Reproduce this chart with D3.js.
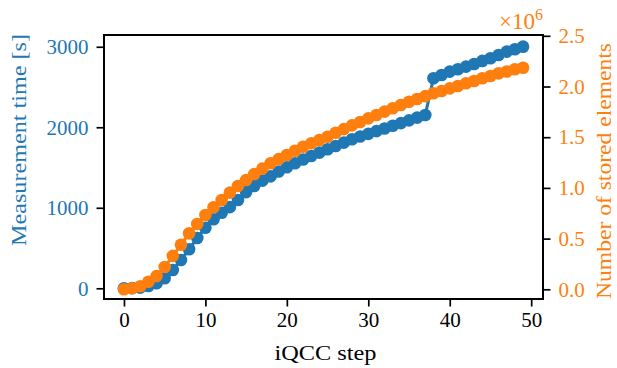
<!DOCTYPE html>
<html>
<head>
<meta charset="utf-8">
<script src="https://cdn.jsdelivr.net/npm/d3@7"></script>
<style>
  body { margin: 0; background: #fff; }
  text { font-family: 'Liberation Serif', 'Times New Roman', 'DejaVu Serif', serif; }
</style>
</head>
<body>
<svg id="chart" width="617" height="368"></svg>
<script>
// iQCC step on the x axis
const steps = d3.range(0, 50);

// measurement time in seconds (left axis)
const measTime = [
  0, 2, 8, 28, 62, 124, 227, 352, 484, 625,
  752, 857, 939, 1008, 1097, 1195, 1271, 1337, 1390, 1450,
  1503, 1553, 1600, 1643, 1685, 1727, 1768, 1809, 1851, 1885,
  1918, 1952, 1985, 2019, 2052, 2086, 2120, 2153, 2609, 2650,
  2691, 2720, 2753, 2786, 2824, 2857, 2898, 2939, 2969, 3001
];

// number of stored elements in millions (right axis, x1e6)
const storedElems = [
  0, 0.01, 0.03, 0.075, 0.13, 0.22, 0.33, 0.44, 0.552, 0.644,
  0.733, 0.809, 0.881, 0.953, 1.019, 1.078, 1.137, 1.19, 1.243, 1.284,
  1.324, 1.367, 1.406, 1.44, 1.472, 1.505, 1.544, 1.58, 1.617, 1.65,
  1.686, 1.719, 1.752, 1.785, 1.818, 1.85, 1.877, 1.905, 1.933, 1.956,
  1.982, 2.005, 2.032, 2.054, 2.081, 2.104, 2.13, 2.148, 2.17, 2.185
];

const xTicks = [0, 10, 20, 30, 40, 50];
const leftTicks = [0, 1000, 2000, 3000];
const rightTicks = [0, 0.5, 1.0, 1.5, 2.0, 2.5];

const blue = '#1f77b4', orange = '#ff7f0e';
const pLeft = 104, pRight = 543, pTop = 35, pBottom = 299;
const fs = 21;
const serif = "'Liberation Serif', 'Times New Roman', 'DejaVu Serif', serif";

const svg = d3.select('#chart');

let x = d3.scaleLinear().domain([-2.45, 51.45]).range([pLeft, pRight]);
let yL = d3.scaleLinear().domain([-133, 3146]).range([pBottom, pTop]);
let yR = d3.scaleLinear().domain([-0.0957, 2.508]).range([pBottom, pTop]);

// Axes
function styleAxis(g, color) {
  g.attr('font-family', serif).attr('font-size', fs);
  g.select('.domain').remove();
  g.selectAll('.tick line').attr('stroke', '#000').attr('stroke-width', 1.7);
  g.selectAll('.tick text').attr('fill', color);
}

svg.append('g')
  .attr('transform', 'translate(0,' + pBottom + ')')
  .call(d3.axisBottom(x).tickValues(xTicks).tickSize(7.5).tickPadding(6).tickFormat(d3.format('d')))
  .call(g => styleAxis(g, '#000'));

svg.append('g')
  .attr('transform', 'translate(' + pLeft + ',0)')
  .call(d3.axisLeft(yL).tickValues(leftTicks).tickSize(7.5).tickPadding(8).tickFormat(d3.format('d')))
  .call(g => styleAxis(g, blue));

svg.append('g')
  .attr('transform', 'translate(' + pRight + ',0)')
  .call(d3.axisRight(yR).tickValues(rightTicks).tickSize(7.5).tickPadding(8).tickFormat(d3.format('.1f')))
  .call(g => styleAxis(g, orange));

// Blue series
svg.append('path')
  .datum(steps)
  .attr('fill', 'none')
  .attr('stroke', blue)
  .attr('stroke-width', 3.1)
  .attr('stroke-linejoin', 'round')
  .attr('d', d3.line().x(i => x(i)).y(i => yL(measTime[i])));

svg.append('g').selectAll('circle')
  .data(steps)
  .join('circle')
  .attr('cx', i => x(i))
  .attr('cy', i => yL(measTime[i]))
  .attr('r', 6.3)
  .attr('fill', blue);

// Orange series (twin axis, drawn on top)
svg.append('path')
  .datum(steps)
  .attr('fill', 'none')
  .attr('stroke', orange)
  .attr('stroke-width', 3.1)
  .attr('stroke-linejoin', 'round')
  .attr('d', d3.line().x(i => x(i)).y(i => yR(storedElems[i])));

svg.append('g').selectAll('circle')
  .data(steps)
  .join('circle')
  .attr('cx', i => x(i))
  .attr('cy', i => yR(storedElems[i]))
  .attr('r', 6.3)
  .attr('fill', orange);

// frame
svg.append('rect')
  .attr('x', pLeft).attr('y', pTop)
  .attr('width', pRight - pLeft).attr('height', pBottom - pTop)
  .attr('fill', 'none')
  .attr('stroke', '#000')
  .attr('stroke-width', 2);

// labels
svg.append('text')
  .attr('x', (pLeft + pRight) / 2 + 2)
  .attr('y', 360)
  .attr('text-anchor', 'middle')
  .attr('font-size', fs)
  .attr('textLength', 102)
  .attr('lengthAdjust', 'spacingAndGlyphs')
  .text('iQCC step');

svg.append('text')
  .attr('transform', 'translate(26,140) rotate(-90)')
  .attr('text-anchor', 'middle')
  .attr('font-size', fs)
  .attr('textLength', 212)
  .attr('lengthAdjust', 'spacingAndGlyphs')
  .attr('fill', blue)
  .text('Measurement time [s]');

svg.append('text')
  .attr('transform', 'translate(611,171) rotate(-90)')
  .attr('text-anchor', 'middle')
  .attr('font-size', fs)
  .attr('textLength', 256)
  .attr('lengthAdjust', 'spacingAndGlyphs')
  .attr('fill', orange)
  .text('Number of stored elements');

// offset text x10^6
const off = svg.append('text')
  .attr('x', 543)
  .attr('y', 29)
  .attr('text-anchor', 'end')
  .attr('fill', orange)
  .attr('font-size', 23);
off.append('tspan').text('\u00d710');
off.append('tspan').attr('dy', -9).attr('font-size', 16).text('6');
</script>
</body>
</html>
